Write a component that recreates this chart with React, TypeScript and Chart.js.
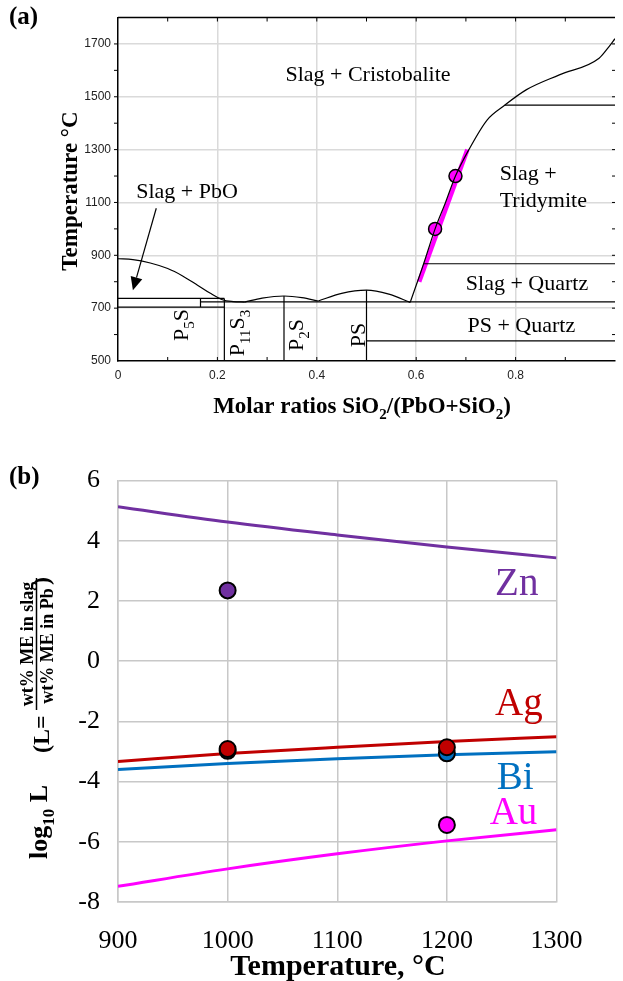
import React, { useEffect, useRef } from 'react';
import { Chart, registerables } from 'chart.js';

Chart.register(...registerables);

const SERIF = '"Liberation Serif", "Times New Roman", Times, serif';
const SANS = '"Liberation Sans", Arial, Helvetica, sans-serif';

// ---------------- Panel (a): PbO–SiO2 phase diagram ----------------
const molarTicks = [0, 0.2, 0.4, 0.6, 0.8];
const tempTicksA = [500, 700, 900, 1100, 1300, 1500, 1700];

const liquidusPbO = [
  [0, 887], [0.03, 884], [0.065, 871], [0.1, 850], [0.13, 822], [0.16, 787],
  [0.185, 757], [0.21, 732], [0.232, 725], [0.255, 723],
];
const liquidusP11S3 = [[0.255, 723], [0.29, 738], [0.334, 746], [0.37, 740], [0.403, 727]];
const liquidusP2S = [[0.403, 727], [0.45, 756], [0.5, 768], [0.545, 753], [0.588, 722]];
const liquidusSiO2 = [
  [0.588, 722], [0.615, 868], [0.638, 1000], [0.659, 1100], [0.679, 1200],
  [0.706, 1300], [0.743, 1413], [0.778, 1468], [0.822, 1527], [0.888, 1583],
  [0.968, 1646], [0.988, 1690], [1.0, 1720],
];
// [x1, T1, x2, T2]
const phaseSegments = [
  [0, 737, 0.214, 737],
  [0, 704, 0.214, 704],
  [0.166, 704, 0.166, 737],
  [0.166, 724, 1.0, 724],
  [0.214, 500, 0.214, 737],
  [0.334, 500, 0.334, 746],
  [0.5, 500, 0.5, 768],
  [0.5, 576, 1.0, 576],
  [0.615, 868, 1.0, 868],
  [0.778, 1468, 1.0, 1468],
];
const measuredX = [0.638, 0.679];
const measuredT = [1000, 1200];
const fitLine = [[0.606, 800], [0.703, 1300]];
const arrowFrom = [0.077, 1078];
const arrowTo = [0.03, 768];

type Seg = [string, number?];
const regionLabels: { segs: Seg[]; x: number; T: number; align: string; rot?: boolean }[] = [
  { segs: [['Slag + Cristobalite']], x: 0.503, T: 1560, align: 'center' },
  { segs: [['Slag + PbO']], x: 0.139, T: 1116, align: 'center' },
  { segs: [['Slag +']], x: 0.768, T: 1185, align: 'left' },
  { segs: [['Tridymite']], x: 0.768, T: 1084, align: 'left' },
  { segs: [['Slag + Quartz']], x: 0.823, T: 768, align: 'center' },
  { segs: [['PS + Quartz']], x: 0.8115, T: 611, align: 'center' },
  { segs: [['P'], ['5', 1], ['S']], x: 0.141, T: 636, align: 'center', rot: true },
  { segs: [['P'], ['11', 1], ['S'], ['3', 1]], x: 0.254, T: 606, align: 'center', rot: true },
  { segs: [['P'], ['2', 1], ['S']], x: 0.373, T: 598, align: 'center', rot: true },
  { segs: [['PS']], x: 0.496, T: 598, align: 'center', rot: true },
];

// ---------------- Panel (b): distribution coefficients ----------------
const tempsB = [900, 1000, 1100, 1200, 1300];
const logTicksB = [-8, -6, -4, -2, 0, 2, 4, 6];
const znCurve = [5.13, 4.62, 4.19, 3.79, 3.43];
const agCurve = [-3.33, -3.07, -2.86, -2.67, -2.51];
const biCurve = [-3.6, -3.4, -3.24, -3.11, -3.01];
const auCurve = [-7.48, -6.9, -6.4, -5.97, -5.6];
const znMeasT = [1000];
const znMeas = [2.35];
const agMeasT = [1000, 1200];
const agMeas = [-2.92, -2.86];
const biMeasT = [1000, 1200];
const biMeas = [-2.98, -3.06];
const auMeasT = [1200];
const auMeas = [-5.44];

const COL_ZN = '#7030A0';
const COL_AG = '#C00000';
const COL_BI = '#0070C0';
const COL_AU = '#FF00FF';

const elementLabels = [
  { text: 'Zn', color: COL_ZN, T: 1244, v: 2.2 },
  { text: 'Ag', color: COL_AG, T: 1244, v: -1.79 },
  { text: 'Bi', color: COL_BI, T: 1245.5, v: -4.24 },
  { text: 'Au', color: COL_AU, T: 1239, v: -5.4 },
];

// ---------------- helpers ----------------
function rich(
  ctx: CanvasRenderingContext2D, segs: Seg[], x: number, y: number,
  align: string, rot: boolean, size: number, weight: string, color: string,
) {
  ctx.save();
  ctx.translate(x, y);
  if (rot) ctx.rotate(-Math.PI / 2);
  const subSize = Math.round(size * 0.66);
  const fonts = segs.map((s) => `${weight} ${s[1] ? subSize : size}px ${SERIF}`);
  let total = 0;
  const widths = segs.map((s, i) => {
    ctx.font = fonts[i];
    const w = ctx.measureText(s[0]).width;
    total += w;
    return w;
  });
  let cx = align === 'center' ? -total / 2 : align === 'right' ? -total : 0;
  ctx.textAlign = 'left';
  ctx.textBaseline = 'alphabetic';
  ctx.fillStyle = color;
  segs.forEach((s, i) => {
    ctx.font = fonts[i];
    ctx.fillText(s[0], cx, s[1] ? size * 0.27 : 0);
    cx += widths[i];
  });
  ctx.restore();
}

const pts = (arr: number[][]) => arr.map((p) => ({ x: p[0], y: p[1] }));
const zip = (xs: number[], ys: number[]) => xs.map((x, i) => ({ x, y: ys[i] }));
const near = (list: number[], v: number) => list.some((t) => Math.abs(t - v) < 1e-6);

const panelAPlugin = {
  id: 'panelA',
  afterDatasetsDraw(chart: any) {
    const ctx: CanvasRenderingContext2D = chart.ctx;
    const xs = chart.scales.x;
    const ys = chart.scales.y;
    const ca = chart.chartArea;
    ctx.save();
    ctx.strokeStyle = '#000';
    ctx.fillStyle = '#000';
    // top border
    ctx.lineWidth = 1.5;
    ctx.beginPath();
    ctx.moveTo(ca.left, ca.top);
    ctx.lineTo(ca.right, ca.top);
    ctx.stroke();
    // tick marks
    ctx.lineWidth = 1;
    for (let i = 1; i < 10; i++) {
      const px = xs.getPixelForValue(i / 10);
      ctx.beginPath();
      ctx.moveTo(px, ca.top);
      ctx.lineTo(px, ca.top + 4);
      ctx.moveTo(px, ca.bottom);
      ctx.lineTo(px, ca.bottom - 4);
      ctx.stroke();
    }
    for (let T = 600; T < 1800; T += 100) {
      const py = ys.getPixelForValue(T);
      ctx.beginPath();
      ctx.moveTo(ca.left - 4, py);
      ctx.lineTo(ca.left, py);
      ctx.moveTo(ca.right - 3, py);
      ctx.lineTo(ca.right, py);
      ctx.stroke();
    }
    // arrow
    const x0 = xs.getPixelForValue(arrowFrom[0]);
    const y0 = ys.getPixelForValue(arrowFrom[1]);
    const x1 = xs.getPixelForValue(arrowTo[0]);
    const y1 = ys.getPixelForValue(arrowTo[1]);
    const ang = Math.atan2(y1 - y0, x1 - x0);
    const hl = 13;
    const hw = 6;
    const bx = x1 - hl * Math.cos(ang);
    const by = y1 - hl * Math.sin(ang);
    ctx.lineWidth = 1.2;
    ctx.beginPath();
    ctx.moveTo(x0, y0);
    ctx.lineTo(bx, by);
    ctx.stroke();
    ctx.beginPath();
    ctx.moveTo(x1, y1);
    ctx.lineTo(bx - hw * Math.sin(ang), by + hw * Math.cos(ang));
    ctx.lineTo(bx + hw * Math.sin(ang), by - hw * Math.cos(ang));
    ctx.closePath();
    ctx.fill();
    ctx.restore();

    // region labels
    regionLabels.forEach((l) => {
      rich(ctx, l.segs, xs.getPixelForValue(l.x), ys.getPixelForValue(l.T), l.align, !!l.rot, 22, 'normal', '#000');
    });
    // titles
    rich(ctx, [['(a)']], 9, 24, 'left', false, 25, 'bold', '#000');
    rich(ctx, [['Temperature °C']], 77, 191, 'center', true, 23, 'bold', '#000');
    rich(ctx, [['Molar ratios SiO'], ['2', 1], ['/(PbO+SiO'], ['2', 1], [')']], 362, 413, 'center', false, 23, 'bold', '#000');
  },
};

const panelBPlugin = {
  id: 'panelB',
  afterDatasetsDraw(chart: any) {
    const ctx: CanvasRenderingContext2D = chart.ctx;
    const xs = chart.scales.x;
    const ys = chart.scales.y;
    elementLabels.forEach((l) => {
      rich(ctx, [[l.text]], xs.getPixelForValue(l.T), ys.getPixelForValue(l.v), 'left', false, 39, 'normal', l.color);
    });
    rich(ctx, [['(b)']], 9, 44, 'left', false, 25, 'bold', '#000');
    rich(ctx, [['Temperature, °C']], 338, 535, 'center', false, 30, 'bold', '#000');
    rich(ctx, [['log'], ['10', 1], [' L']], 47, 382, 'center', true, 26, 'bold', '#000');
    rich(ctx, [['(L=']], 49, 313, 'left', true, 24, 'bold', '#000');
    rich(ctx, [['wt% ME in slag']], 33, 204, 'center', true, 18, 'bold', '#000');
    rich(ctx, [['wt% ME in Pb']], 53, 206, 'center', true, 18, 'bold', '#000');
    rich(ctx, [[')']], 49, 145, 'left', true, 24, 'bold', '#000');
    ctx.save();
    ctx.strokeStyle = '#000';
    ctx.lineWidth = 1.5;
    ctx.beginPath();
    ctx.moveTo(36.5, 138);
    ctx.lineTo(36.5, 270);
    ctx.stroke();
    ctx.restore();
  },
};

function configA(): any {
  const black = { borderColor: '#000', borderWidth: 1.2, pointRadius: 0, fill: false };
  const curves = [liquidusPbO, liquidusP11S3, liquidusP2S, liquidusSiO2].map((c) => ({
    ...black, data: pts(c), cubicInterpolationMode: 'monotone', order: 0,
  }));
  const segs = phaseSegments.map((s) => ({
    ...black, data: [{ x: s[0], y: s[1] }, { x: s[2], y: s[3] }], tension: 0, order: 0,
  }));
  return {
    type: 'line',
    data: {
      datasets: [
        ...curves,
        ...segs,
        {
          data: zip(measuredX, measuredT), showLine: false, pointRadius: 6.5,
          pointBackgroundColor: COL_AU, pointBorderColor: '#000', pointBorderWidth: 1.5, order: 1,
        },
        {
          data: pts(fitLine), borderColor: COL_AU, borderWidth: 4.5, pointRadius: 0, order: 2,
        },
      ],
    },
    options: {
      responsive: false, animation: false, devicePixelRatio: 1, events: [],
      layout: { padding: { top: 17.5, right: 1, left: 0, bottom: 0 } },
      plugins: { legend: { display: false }, tooltip: { enabled: false } },
      scales: {
        x: {
          type: 'linear', min: 0, max: 1,
          afterFit: (s: any) => { s.height = 79; },
          ticks: {
            stepSize: 0.1, autoSkip: false, maxRotation: 0, padding: 7,
            font: { family: SANS, size: 12 }, color: '#222',
            callback: (v: number) => (near(molarTicks, v) ? (Math.abs(v) < 1e-9 ? '0' : String(Math.round(v * 10) / 10)) : ''),
          },
          grid: {
            drawTicks: false, lineWidth: 1.5,
            color: (c: any) => (c.tick && near(molarTicks, c.tick.value) && c.tick.value > 0 ? '#dadada' : 'rgba(0,0,0,0)'),
          },
          border: { color: '#000', width: 1.5 },
        },
        y: {
          type: 'linear', min: 500, max: 1800,
          afterFit: (s: any) => { s.width = 118; },
          ticks: {
            stepSize: 100, autoSkip: false, padding: 7,
            font: { family: SANS, size: 12 }, color: '#222',
            callback: (v: number) => (tempTicksA.includes(v) ? String(v) : ''),
          },
          grid: {
            drawTicks: false, lineWidth: 1.5,
            color: (c: any) => (c.tick && tempTicksA.includes(c.tick.value) && c.tick.value > 500 ? '#dadada' : 'rgba(0,0,0,0)'),
          },
          border: { color: '#000', width: 1.5 },
        },
      },
    },
    plugins: [panelAPlugin],
  };
}

function configB(): any {
  const curve = (vals: number[], color: string) => ({
    data: zip(tempsB, vals), borderColor: color, borderWidth: 3, pointRadius: 0, tension: 0.4,
    cubicInterpolationMode: 'monotone', order: 1,
  });
  const marks = (t: number[], v: number[], color: string) => ({
    data: zip(t, v), showLine: false, pointRadius: 8, pointBackgroundColor: color,
    pointBorderColor: '#000', pointBorderWidth: 2, order: 0,
  });
  return {
    type: 'line',
    data: {
      datasets: [
        marks(auMeasT, auMeas, COL_AU),
        marks(znMeasT, znMeas, COL_ZN),
        marks(agMeasT, agMeas, COL_AG),
        marks(biMeasT, biMeas, COL_BI),
        curve(znCurve, COL_ZN),
        curve(agCurve, COL_AG),
        curve(biCurve, COL_BI),
        curve(auCurve, COL_AU),
      ],
    },
    options: {
      responsive: false, animation: false, devicePixelRatio: 1, events: [],
      layout: { padding: { top: 40.5, right: 66.5, left: 0, bottom: 0 } },
      plugins: { legend: { display: false }, tooltip: { enabled: false } },
      scales: {
        x: {
          type: 'linear', min: 900, max: 1300,
          afterFit: (s: any) => { s.height = 79; },
          ticks: {
            stepSize: 100, autoSkip: false, maxRotation: 0, padding: 24,
            font: { family: SERIF, size: 26 }, color: '#000',
            callback: (v: number) => String(v),
          },
          grid: { drawTicks: false, lineWidth: 1.5, color: '#c8c8c8' },
          border: { color: '#c8c8c8', width: 1.5 },
        },
        y: {
          type: 'linear', min: -8, max: 6,
          afterFit: (s: any) => { s.width = 118; },
          ticks: {
            stepSize: 2, autoSkip: false, padding: 18,
            font: { family: SERIF, size: 26 }, color: '#000',
            callback: (v: number) => (logTicksB.includes(v) ? String(v) : ''),
          },
          grid: { drawTicks: false, lineWidth: 1.5, color: '#c8c8c8' },
          border: { color: '#c8c8c8', width: 1.5 },
        },
      },
    },
    plugins: [panelBPlugin],
  };
}

export default function App() {
  const refA = useRef<HTMLCanvasElement>(null);
  const refB = useRef<HTMLCanvasElement>(null);
  useEffect(() => {
    const a = new Chart(refA.current as HTMLCanvasElement, configA());
    const b = new Chart(refB.current as HTMLCanvasElement, configB());
    return () => {
      a.destroy();
      b.destroy();
    };
  }, []);
  return (
    <div style={{ position: 'absolute', left: 0, top: 0, width: 623, height: 981, background: '#fff' }}>
      <canvas ref={refA} width={623} height={440}
        style={{ position: 'absolute', left: 0, top: 0, width: 623, height: 440 }} />
      <canvas ref={refB} width={623} height={541}
        style={{ position: 'absolute', left: 0, top: 440, width: 623, height: 541 }} />
    </div>
  );
}
